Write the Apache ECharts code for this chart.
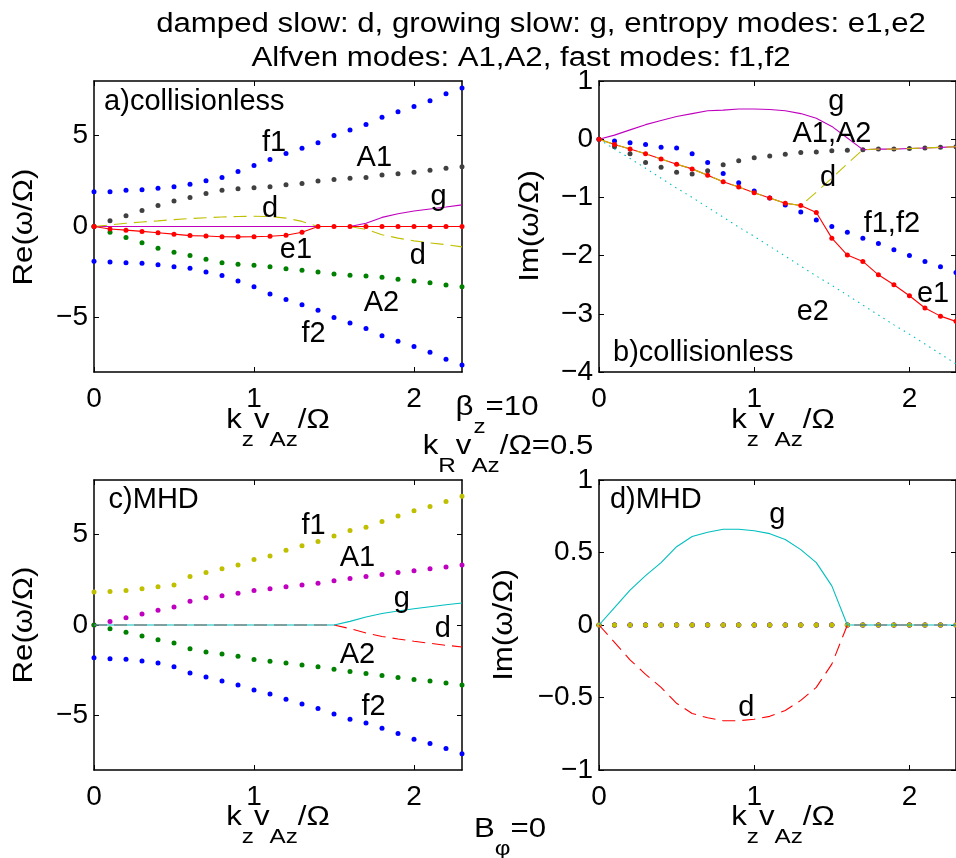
<!DOCTYPE html>
<html>
<head>
<meta charset="utf-8">
<script src="https://cdn.jsdelivr.net/npm/echarts@6/dist/echarts.min.js"></script>
<style>
html, body { margin: 0; padding: 0; background: #fff; }
#chart { width: 956px; height: 858px; }
</style>
</head>
<body>
<div id="chart"></div>
<script>
// k_z v_Az / Omega
const kz = [0, 0.1, 0.2, 0.3, 0.4, 0.5, 0.6, 0.7, 0.8, 0.9, 1.0, 1.1, 1.2, 1.3, 1.4, 1.5, 1.6, 1.7, 1.8, 1.9, 2.0, 2.1, 2.2, 2.3];

// a) collisionless, Re(w/Omega)
const reF1 = [1.91, 1.91, 1.99, 2.02, 2.10, 2.19, 2.32, 2.52, 2.70, 3.03, 3.35, 3.69, 4.01, 4.30, 4.61, 5.00, 5.31, 5.61, 6.01, 6.31, 6.60, 6.91, 7.30, 7.61];
const reF2 = [-1.91, -1.95, -1.99, -2.02, -2.10, -2.21, -2.30, -2.50, -2.70, -3.00, -3.31, -3.71, -4.01, -4.30, -4.61, -5.00, -5.31, -5.61, -6.01, -6.31, -6.60, -6.91, -7.30, -7.61];
const reA1 = [0, 0.31, 0.59, 0.88, 1.16, 1.40, 1.60, 1.82, 1.99, 2.08, 2.13, 2.19, 2.30, 2.37, 2.50, 2.59, 2.65, 2.70, 2.83, 2.90, 2.98, 3.09, 3.20, 3.29];
const reA2 = [0, -0.31, -0.61, -0.90, -1.19, -1.42, -1.60, -1.80, -1.99, -2.08, -2.13, -2.21, -2.32, -2.41, -2.50, -2.61, -2.68, -2.72, -2.79, -2.90, -3.00, -3.09, -3.22, -3.31];
const reE1 = [0, -0.14, -0.20, -0.27, -0.34, -0.42, -0.50, -0.52, -0.56, -0.57, -0.56, -0.54, -0.48, -0.32, 0, 0, 0, 0, 0, 0, 0, 0, 0, 0];
const reE2 = [0, 0, 0, 0, 0, 0, 0, 0, 0, 0, 0, 0, 0, 0, 0, 0, 0, 0, 0, 0, 0, 0, 0, 0];
const reG = [0, 0, 0, 0, 0, 0, 0, 0, 0, 0, 0, 0, 0, 0, 0, 0, 0, 0.18, 0.50, 0.70, 0.85, 0.96, 1.07, 1.19];
const reD = [0, 0.09, 0.18, 0.25, 0.31, 0.38, 0.44, 0.48, 0.52, 0.55, 0.56, 0.55, 0.46, 0.28, 0, 0, 0, -0.16, -0.45, -0.64, -0.79, -0.90, -1.00, -1.12];

// b) collisionless, Im(w/Omega)
const imF = [0, -0.03, -0.06, -0.09, -0.14, -0.15, -0.25, -0.40, -0.59, -0.75, -0.89, -1.01, -1.13, -1.25, -1.39, -1.50, -1.60, -1.70, -1.79, -1.90, -2.00, -2.10, -2.19, -2.29];
const imA = [0, -0.13, -0.25, -0.40, -0.48, -0.57, -0.60, -0.54, -0.44, -0.37, -0.32, -0.29, -0.26, -0.23, -0.22, -0.20, -0.19, -0.18, -0.17, -0.17, -0.16, -0.15, -0.14, -0.13];
const imE1 = [0, -0.09, -0.17, -0.25, -0.34, -0.43, -0.51, -0.62, -0.73, -0.82, -0.92, -1.01, -1.10, -1.14, -1.26, -1.70, -1.99, -2.10, -2.33, -2.50, -2.69, -2.90, -3.04, -3.13];
const imE2 = [0, -0.17, -0.33, -0.50, -0.67, -0.84, -1.00, -1.17, -1.34, -1.51, -1.67, -1.84, -2.01, -2.18, -2.35, -2.51, -2.68, -2.85, -3.02, -3.19, -3.35, -3.52, -3.69, -3.86];
const imG = [0, 0.07, 0.16, 0.25, 0.32, 0.39, 0.44, 0.49, 0.50, 0.52, 0.52, 0.51, 0.49, 0.44, 0.36, 0.22, 0.02, -0.18, -0.17, -0.17, -0.16, -0.15, -0.14, -0.13];
const imD = [0, -0.09, -0.17, -0.25, -0.34, -0.43, -0.51, -0.62, -0.73, -0.82, -0.92, -1.01, -1.10, -1.14, -0.91, -0.67, -0.42, -0.18, -0.17, -0.17, -0.16, -0.15, -0.14, -0.13];

// c) MHD, Re(w/Omega)
const mReF1 = [1.82, 1.85, 1.91, 2.00, 2.11, 2.21, 2.67, 2.89, 3.11, 3.31, 3.62, 3.81, 4.12, 4.37, 4.61, 4.91, 5.22, 5.40, 5.71, 6.01, 6.31, 6.54, 6.82, 7.11];
const mReF2 = [-1.80, -1.86, -1.89, -1.99, -2.10, -2.30, -2.65, -2.87, -3.09, -3.31, -3.58, -3.80, -4.10, -4.36, -4.60, -4.91, -5.20, -5.40, -5.70, -5.99, -6.31, -6.54, -6.82, -7.10];
const mReA1 = [0, 0.20, 0.40, 0.61, 0.81, 0.99, 1.31, 1.51, 1.62, 1.75, 1.91, 2.00, 2.11, 2.21, 2.30, 2.44, 2.57, 2.68, 2.79, 2.90, 3.00, 3.11, 3.20, 3.31];
const mReA2 = [0, -0.20, -0.40, -0.61, -0.81, -0.99, -1.31, -1.49, -1.60, -1.73, -1.91, -2.00, -2.10, -2.21, -2.30, -2.44, -2.56, -2.67, -2.79, -2.89, -3.00, -3.09, -3.20, -3.31];
const mReG = [0, 0, 0, 0, 0, 0, 0, 0, 0, 0, 0, 0, 0, 0, 0, 0, 0.20, 0.44, 0.63, 0.77, 0.90, 1.01, 1.12, 1.21];
const mReD = [0, 0, 0, 0, 0, 0, 0, 0, 0, 0, 0, 0, 0, 0, 0, 0, -0.20, -0.44, -0.63, -0.77, -0.90, -1.01, -1.12, -1.21];

// d) MHD, Im(w/Omega)
const mImG = [0, 0.12, 0.24, 0.34, 0.43, 0.54, 0.61, 0.64, 0.66, 0.66, 0.65, 0.63, 0.59, 0.52, 0.43, 0.27, 0, 0, 0, 0, 0, 0, 0, 0];
const mImD = [0, -0.12, -0.24, -0.34, -0.43, -0.54, -0.61, -0.64, -0.66, -0.66, -0.65, -0.63, -0.59, -0.52, -0.43, -0.27, 0, 0, 0, 0, 0, 0, 0, 0];
const mImZ = [0, 0, 0, 0, 0, 0, 0, 0, 0, 0, 0, 0, 0, 0, 0, 0, 0, 0, 0, 0, 0, 0, 0, 0];

// tick values
const xTicks = [0, 1, 2];
const reTicks = [-5, 0, 5];
const imTicksB = [-4, -3, -2, -1, 0, 1];
const imTicksD = [-1, -0.5, 0, 0.5, 1];

// curve labels [k, value, text]
const annA = [[0.06, 6.82, 'a)collisionless'], [1.047, 4.6, 'f1'], [1.638, 3.74, 'A1'], [1.047, 0.97, 'd'], [2.10, 1.6, 'g'], [1.158, -1.31, 'e1'], [1.971, -1.62, 'd'], [1.683, -4.18, 'A2'], [1.293, -5.90, 'f2']];
const annB = [[1.473, 0.64, 'g'], [1.243, 0.09, 'A1,A2'], [1.42, -0.66, 'd'], [1.702, -1.45, 'f1,f2'], [2.045, -2.66, 'e1'], [1.27, -2.97, 'e2'], [0.087, -3.67, 'b)collisionless']];
const annC = [[0.088, 6.88, 'c)MHD'], [1.293, 5.48, 'f1'], [1.533, 3.72, 'A1'], [1.871, 1.44, 'g'], [2.126, -0.22, 'd'], [1.533, -1.67, 'A2'], [1.669, -4.52, 'f2']];
const annD = [[0.067, 0.862, 'd)MHD'], [1.094, 0.762, 'g'], [0.894, -0.573, 'd']];

const FONT = '"Liberation Sans", Arial, Helvetica, sans-serif';
const SX = 1.155; // matlab text runs a bit wider
const BLUE = '#0000ff', GREEN = '#008000', RED = '#ff0000', CYAN = '#00bfbf',
      MAG = '#bf00bf', OLIVE = '#bfbf00', GRAY = '#404040';

const minus = v => String(v).replace('-', '\u2212');
const pts = arr => kz.map((x, i) => [x, arr[i]]);

function xAxes(gi) {
  const base = {
    type: 'value', gridIndex: gi, min: 0, max: 2.3, splitLine: { show: false },
    axisLine: { onZero: false, lineStyle: { color: '#000', width: 1.5 } },
    axisTick: { inside: true, length: 5, customValues: xTicks, lineStyle: { color: '#000', width: 1 } }
  };
  return [
    Object.assign({}, base, { position: 'bottom', axisLabel: { customValues: xTicks, color: '#000', fontSize: 28, fontFamily: FONT, margin: 13, formatter: minus } }),
    Object.assign({}, base, { position: 'top', axisLabel: { show: false } })
  ];
}

function yAxes(gi, min, max, ticks) {
  const base = {
    type: 'value', gridIndex: gi, min: min, max: max, splitLine: { show: false },
    axisLine: { onZero: false, lineStyle: { color: '#000', width: 1.5 } },
    axisTick: { inside: true, length: 5, customValues: ticks, lineStyle: { color: '#000', width: 1 } }
  };
  return [
    Object.assign({}, base, { position: 'left', axisLabel: { customValues: ticks, color: '#000', fontSize: 28, fontFamily: FONT, margin: 6, formatter: minus } }),
    Object.assign({}, base, { position: 'right', axisLabel: { show: false } })
  ];
}

function dots(gi, arr, color) {
  return {
    type: 'scatter', xAxisIndex: 2 * gi, yAxisIndex: 2 * gi, data: pts(arr),
    symbol: 'circle', symbolSize: 5, itemStyle: { color: color, opacity: 1 }, silent: true
  };
}

function curve(gi, arr, color, dash, marks) {
  return {
    type: 'line', xAxisIndex: 2 * gi, yAxisIndex: 2 * gi, data: pts(arr),
    symbol: marks ? 'circle' : 'none', showSymbol: !!marks, symbolSize: 5,
    itemStyle: { color: color }, lineStyle: { color: color, width: 1.1, type: dash || 'solid' },
    silent: true
  };
}

function notes(gi, arr) {
  return {
    type: 'scatter', xAxisIndex: 2 * gi, yAxisIndex: 2 * gi, symbolSize: 1,
    itemStyle: { color: 'transparent', opacity: 1 }, silent: true, z: 5,
    data: arr.map(a => [a[0], a[1], a[2]]),
    label: {
      show: true, position: 'right', distance: 0, color: '#000', opacity: 1, fontSize: 29, fontFamily: FONT,
      formatter: p => p.value[2]
    }
  };
}

const rich = {
  m: { fontSize: 27, lineHeight: 32, verticalAlign: 'top', fontFamily: FONT, fill: '#000' },
  s: { fontSize: 21, lineHeight: 21, verticalAlign: 'top', padding: [23, 0, 0, 0], fontFamily: FONT, fill: '#000' }
};

function txt(x, y, text, rot) {
  return {
    type: 'text', x: x, y: y, scaleX: SX, rotation: rot || 0, silent: true,
    style: { text: text, fontSize: 27, fontFamily: FONT, fill: '#000', align: 'center', verticalAlign: 'middle' }
  };
}
// rich text: y is the top of the line box, main baseline sits ~24px lower
function rtxt(x, baseline, text) {
  return {
    type: 'text', x: x, y: baseline - 24.4, scaleX: SX, silent: true,
    style: { text: text, rich: rich, fontSize: 27, fontFamily: FONT, fill: '#000', align: 'center', verticalAlign: 'top' }
  };
}

const DASH = [13, 7];
const DOT = [1.5, 4.5];

const option = {
  animation: false,
  backgroundColor: '#fff',
  textStyle: { fontFamily: FONT },
  grid: [
    { left: 94, top: 81, width: 368, height: 291 },
    { left: 599, top: 81, width: 368, height: 291 },
    { left: 94, top: 480, width: 368, height: 290 },
    { left: 599, top: 480, width: 368, height: 290 }
  ],
  xAxis: [].concat(xAxes(0), xAxes(1), xAxes(2), xAxes(3)),
  yAxis: [].concat(yAxes(0, -8, 8, reTicks), yAxes(1, -4, 1, imTicksB), yAxes(2, -8, 8, reTicks), yAxes(3, -1, 1, imTicksD)),
  series: [
    // a
    curve(0, reE2, CYAN, DOT),
    curve(0, reG, MAG),
    curve(0, reD, OLIVE, DASH),
    curve(0, reE1, RED, null, true),
    dots(0, reF1, BLUE), dots(0, reF2, BLUE), dots(0, reA2, GREEN), dots(0, reA1, GRAY),
    notes(0, annA),
    // b
    curve(1, imE2, CYAN, DOT),
    curve(1, imE1, RED, null, true),
    curve(1, imG, MAG),
    curve(1, imD, OLIVE, DASH),
    dots(1, imF, BLUE), dots(1, imA, GRAY),
    notes(1, annB),
    // c
    curve(2, mReD, RED, DASH),
    curve(2, mReG, CYAN),
    dots(2, mReF1, OLIVE), dots(2, mReA1, MAG), dots(2, mReA2, GREEN), dots(2, mReF2, BLUE),
    notes(2, annC),
    // d
    curve(3, mImD, RED, DASH),
    curve(3, mImG, CYAN),
    dots(3, mImZ, BLUE), dots(3, mImZ, GREEN), dots(3, mImZ, MAG), dots(3, mImZ, OLIVE),
    notes(3, annD)
  ],
  graphic: [
    txt(541, 24.6, 'damped slow: d, growing slow: g, entropy modes: e1,e2'),
    txt(521, 58.3, 'Alfven modes: A1,A2, fast modes: f1,f2'),
    txt(25, 227, 'Re(\u03c9/\u03a9)', Math.PI / 2),
    txt(531, 226, 'Im(\u03c9/\u03a9)', Math.PI / 2),
    txt(25, 625, 'Re(\u03c9/\u03a9)', Math.PI / 2),
    txt(505, 625, 'Im(\u03c9/\u03a9)', Math.PI / 2),
    rtxt(278, 431, '{m|k}{s|z}{m|v}{s|Az}{m|/\u03a9}'),
    rtxt(783, 431, '{m|k}{s|z}{m|v}{s|Az}{m|/\u03a9}'),
    rtxt(278, 828, '{m|k}{s|z}{m|v}{s|Az}{m|/\u03a9}'),
    rtxt(783, 828, '{m|k}{s|z}{m|v}{s|Az}{m|/\u03a9}'),
    rtxt(497, 418, '{m|\u03b2}{s|z}{m|=10}'),
    rtxt(508, 457, '{m|k}{s|R}{m|v}{s|Az}{m|/\u03a9=0.5}'),
    rtxt(510, 840, '{m|B}{s|\u03c6}{m|=0}')
  ]
};

const chart = echarts.init(document.getElementById('chart'));
chart.setOption(option);
</script>
</body>
</html>
